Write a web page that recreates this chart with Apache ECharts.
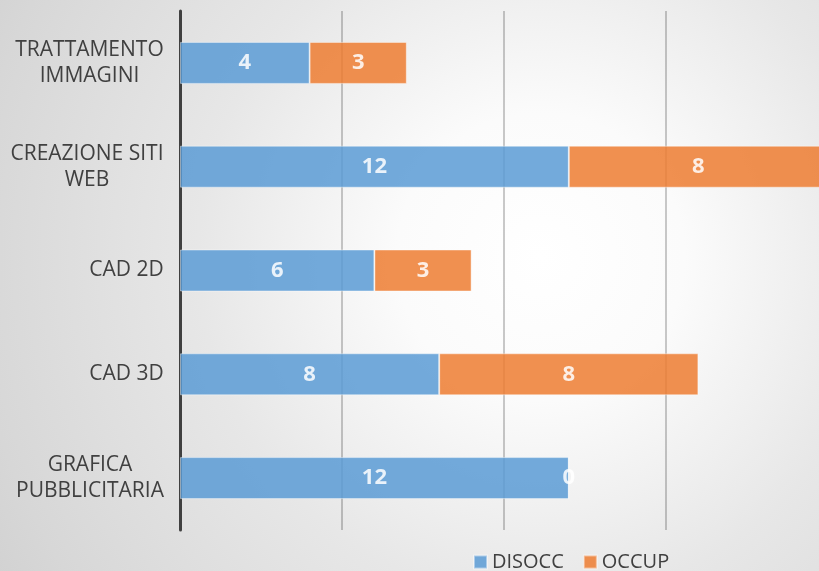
<!DOCTYPE html>
<html>
<head>
<meta charset="utf-8">
<script src="https://cdn.jsdelivr.net/npm/echarts@6/dist/echarts.min.js"></script>
<style>
  html, body { margin: 0; padding: 0; }
  #chart { width: 819px; height: 571px; }
</style>
</head>
<body>
<div id="chart"></div>
<script>
// dati del grafico
var categorie = ['TRATTAMENTO\nIMMAGINI', 'CREAZIONE SITI\nWEB', 'CAD 2D', 'CAD 3D', 'GRAFICA\nPUBBLICITARIA'];
var disocc = [4, 12, 6, 8, 12];
var occup = [3, 8, 3, 8, 0];
var nomiSerie = ['DISOCC', 'OCCUP'];

var chart = echarts.init(document.getElementById('chart'));

// larghezza di ogni etichetta per centrare le righe come in Excel
var labelFont = '21px "Open Sans"';
var ctx = document.createElement('canvas').getContext('2d');
ctx.font = labelFont;
var rich = {};
categorie.forEach(function(c, i) {
  var w = 0;
  c.split('\n').forEach(function(l) { w = Math.max(w, ctx.measureText(l).width); });
  rich['c' + i] = {
    width: Math.ceil(w),
    align: 'center',
    fontFamily: 'Open Sans',
    fontSize: 21,
    lineHeight: 26,
    color: '#404040'
  };
});

var etichetta = {
  show: true,
  position: 'inside',
  color: '#ffffff',
  fontFamily: 'Open Sans',
  fontWeight: 'bold',
  fontSize: 22
};

var option = {
  backgroundColor: new echarts.graphic.RadialGradient(0.66, 0.45, 1.2, [
    { offset: 0, color: '#ffffff' },
    { offset: 0.21, color: '#fbfbfb' },
    { offset: 0.5, color: '#e7e7e7' },
    { offset: 0.83, color: '#d7d7d7' },
    { offset: 1, color: '#cdcdcd' }
  ]),
  animation: false,
  grid: {
    left: 180,
    width: 648,
    top: 11,
    bottom: 41,
    outerBoundsMode: 'none'
  },
  legend: {
    data: nomiSerie,
    left: 468,
    top: 547,
    icon: 'rect',
    itemWidth: 13,
    itemHeight: 13,
    itemGap: 19,
    textStyle: {
      fontFamily: 'Open Sans',
      fontSize: 20,
      color: '#404040'
    }
  },
  xAxis: {
    type: 'value',
    min: 0,
    max: 20,
    interval: 5,
    axisLabel: { show: false },
    axisLine: { show: false },
    axisTick: { show: false },
    splitLine: {
      lineStyle: { color: 'rgba(0,0,0,0.28)', width: 1.5 }
    }
  },
  yAxis: {
    type: 'category',
    data: categorie,
    inverse: true,
    axisTick: { show: false },
    axisLine: {
      lineStyle: { color: '#404040', width: 3 }
    },
    axisLabel: {
      margin: 16,
      align: 'right',
      formatter: function(v, i) {
        return v.split('\n').map(function(l) { return '{c' + i + '|' + l + '}'; }).join('\n');
      },
      rich: rich
    }
  },
  series: [{
    name: nomiSerie[0],
    type: 'bar',
    stack: 'tot',
    barWidth: 42,
    data: disocc,
    label: etichetta,
    itemStyle: {
      color: '#5B9BD5',
      opacity: 0.85,
      borderColor: 'rgba(255,255,255,0.5)',
      borderWidth: 1
    }
  }, {
    name: nomiSerie[1],
    type: 'bar',
    stack: 'tot',
    barWidth: 42,
    data: occup,
    label: etichetta,
    itemStyle: {
      color: '#ED7D31',
      opacity: 0.85,
      borderColor: 'rgba(255,255,255,0.5)',
      borderWidth: 1
    }
  }]
};

chart.setOption(option);
</script>
</body>
</html>
